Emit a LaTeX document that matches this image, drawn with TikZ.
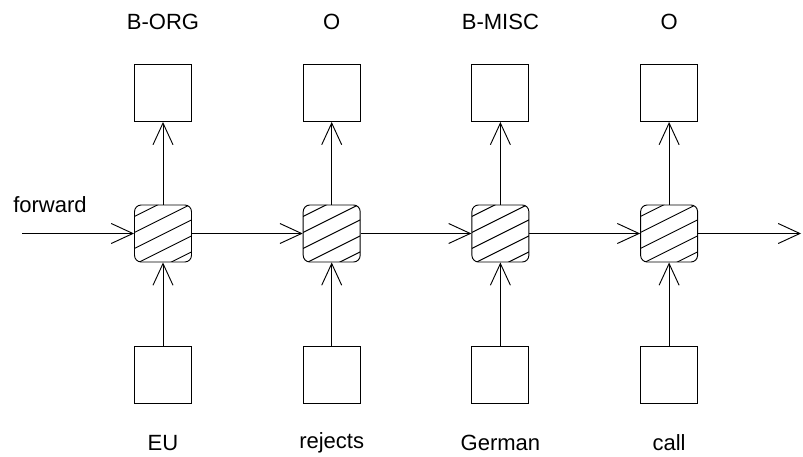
\documentclass[tikz,border=0pt]{standalone}
\usepackage{fontspec}
\setmainfont{Liberation Sans}
\usetikzlibrary{arrows.meta}
\tikzset{caja/.style={draw,line width=.8pt,minimum size=1.71cm,inner sep=0},
         celda/.style={draw,line width=.8pt,minimum size=1.71cm,inner sep=0,rounded corners=.2cm,
           path picture={\foreach \k in {-2,...,6}
             \draw[line width=.8pt,shift={(path picture bounding box.center)}]
               (-1.2cm,0.34cm-\k*0.48cm) -- ++(2.4cm,1.2cm);}},
         flecha/.style={-{Straight Barb[length=6.5mm,width=6mm]},line width=.8pt},
         etq/.style={font=\fontsize{18.8}{22}\selectfont}}

\begin{document}
\begin{tikzpicture}[x=0.03cm,y=-0.03cm]
  \useasboundingbox (0,0) rectangle (803,457);
  \foreach \i/\pal/\tag in {0/EU/B-ORG,1/rejects/O,2/German/B-MISC,3/call/O} {
    \node[caja] (x\i) at (163+\i*168.7,374.5) {};
    \node[celda] (h\i) at (163+\i*168.7,233.5) {};
    \node[caja] (o\i) at (163+\i*168.7,93) {};
    \node[etq] (w\i) at (163+\i*168.7,443) {\pal};
    \node[etq] (t\i) at (163+\i*168.7,22) {\tag};
    \draw[flecha] (x\i) -- (h\i);
    \draw[flecha] (h\i) -- (o\i);
  }
  \coordinate (entrada) at (22,233.5);
  \coordinate (salida) at (801,233.5);
  \node[etq] (fw) at (50,205) {forward};
  \draw[flecha] (entrada) -- (h0);
  \draw[flecha] (h0) -- (h1);
  \draw[flecha] (h1) -- (h2);
  \draw[flecha] (h2) -- (h3);
  \draw[flecha] (h3) -- (salida);
\end{tikzpicture}
\end{document}
